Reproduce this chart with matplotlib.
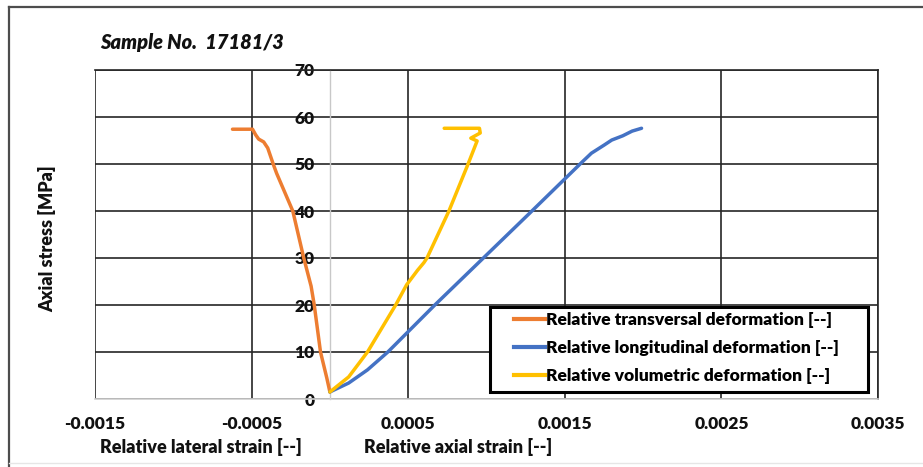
import matplotlib
matplotlib.use("Agg")
import matplotlib.pyplot as plt
from matplotlib.lines import Line2D
from matplotlib.patches import Rectangle

plt.rcParams['font.family'] = ['Lato', 'DejaVu Sans']
WEIGHT = "heavy"

# Stress-strain readings, sample 17181/3
transversal_strain = [0.0, -0.00002, -0.00006, -0.0001, -0.00012, -0.000167, -0.000237,
                      -0.00034, -0.00036, -0.000397, -0.000423, -0.000455, -0.000474,
                      -0.000494, -0.000622]
transversal_stress = [1.5, 4.5, 10.0, 20.0, 24.0, 30.0, 40.0,
                      48.0, 49.8, 53.4, 54.7, 55.3, 56.2,
                      57.4, 57.4]

longitudinal_strain = [0.0, 0.00012, 0.00024, 0.00037, 0.00067, 0.00098, 0.00129,
                       0.00161, 0.00167, 0.00175, 0.0018, 0.00187, 0.00193, 0.00199]
longitudinal_stress = [1.5, 3.4, 6.2, 10.0, 20.0, 30.0, 40.0,
                       50.4, 52.3, 54.0, 55.1, 56.0, 57.0, 57.6]

volumetric_strain = [0.0, 0.00012, 0.00024, 0.00042, 0.00049, 0.00056, 0.0006,
                     0.00062, 0.00076, 0.00088, 0.00094, 0.0009, 0.00096, 0.000955,
                     0.00073]
volumetric_stress = [1.5, 4.7, 10.0, 20.0, 24.3, 27.4, 29.0,
                     30.0, 40.0, 49.8, 54.9, 55.5, 56.6, 57.6,
                     57.6]

x_ticks = [-0.0015, -0.0005, 0.0005, 0.0015, 0.0025, 0.0035]
x_tick_labels = ["-0.0015", "-0.0005", "0.0005", "0.0015", "0.0025", "0.0035"]
y_ticks = [0, 10, 20, 30, 40, 50, 60, 70]

series_names = ["Relative transversal deformation [--]",
                "Relative longitudinal deformation [--]",
                "Relative volumetric deformation [--]"]
series_colors = ["#ED7D31", "#4472C4", "#FFC000"]

W, H = 923, 467
fig = plt.figure(figsize=(W / 100, H / 100), dpi=100)
fig.patch.set_facecolor("white")


def px(x, y):
    """Pixel position (from top-left) to figure fraction."""
    return x / W, 1 - y / H


# plot area in pixel terms
left_px, right_px, top_px, bottom_px = 95, 878, 70, 399
ax = fig.add_axes([left_px / W, (H - bottom_px) / H,
                   (right_px - left_px) / W, (bottom_px - top_px) / H])

ax.set_xlim(-0.0015, 0.0035)
ax.set_ylim(0, 70)
ax.set_xticks(x_ticks)
ax.set_xticklabels(x_tick_labels)
ax.set_yticks(y_ticks)
ax.set_yticklabels([str(v) for v in y_ticks])

ax.grid(True, color="#262626", linewidth=1.2, zorder=0)
ax.set_axisbelow(True)

for side in ("top", "right"):
    ax.spines[side].set_color("#262626")
    ax.spines[side].set_linewidth(1.2)
ax.spines["bottom"].set_color("#d0d0d0")
ax.spines["bottom"].set_linewidth(1.2)
ax.spines["left"].set_position(("data", 0))
ax.spines["left"].set_color("#c8c8c8")
ax.spines["left"].set_linewidth(1.0)

ax.tick_params(axis="both", length=0, labelsize=12.5, colors="#111111")
ax.tick_params(axis="x", pad=12)
ax.tick_params(axis="y", pad=11)
for lab in ax.get_xticklabels() + ax.get_yticklabels():
    lab.set_fontweight(WEIGHT)

ax.plot(transversal_strain, transversal_stress, color=series_colors[0],
        linewidth=2.5, solid_joinstyle="round", solid_capstyle="round", zorder=3)
ax.plot(longitudinal_strain, longitudinal_stress, color=series_colors[1],
        linewidth=2.5, solid_joinstyle="round", solid_capstyle="round", zorder=3)
ax.plot(volumetric_strain, volumetric_stress, color=series_colors[2],
        linewidth=2.5, solid_joinstyle="round", solid_capstyle="round", zorder=3)

# legend box drawn separately so the entries can sit inset from its edge
x0, y0 = px(490, 392)
x1, y1 = px(868, 307)
fig.add_artist(Rectangle((x0, y0), x1 - x0, y1 - y0, transform=fig.transFigure,
                         facecolor="white", edgecolor="black", linewidth=2.2,
                         zorder=4))

handles = [Line2D([], [], color=c, linewidth=3) for c in series_colors]
leg = fig.legend(handles, series_names, loc="upper left",
                 bbox_to_anchor=px(514, 312), frameon=False,
                 handlelength=1.75, handletextpad=0.1, borderpad=0,
                 labelspacing=0.68, prop={"weight": WEIGHT, "size": 12.6},
                 borderaxespad=0)
leg.set_zorder(5)

fig.text(*px(100, 43), "Sample No.  17181/3", fontsize=14.4, fontweight=WEIGHT,
         fontstyle="italic", ha="left", va="center", color="#111111")
fig.text(*px(47, 239), "Axial stress [MPa]", fontsize=13, fontweight=WEIGHT,
         rotation=90, ha="center", va="center", color="#111111")
fig.text(*px(201, 447), "Relative lateral strain [--]", fontsize=13,
         fontweight=WEIGHT, ha="center", va="center", color="#111111")
fig.text(*px(458, 447), "Relative axial strain [--]", fontsize=13,
         fontweight=WEIGHT, ha="center", va="center", color="#111111")

# chart frame
fig.add_artist(Line2D([9 / W, 1.0], [1 - 7 / H, 1 - 7 / H], color="#4d4d4d",
                      linewidth=1.6, transform=fig.transFigure))
fig.add_artist(Line2D([9 / W, 9 / W], [0.0, 1 - 7 / H], color="#4d4d4d",
                      linewidth=1.6, transform=fig.transFigure))
fig.add_artist(Line2D([9 / W, 1.0], [1 - 463 / H, 1 - 463 / H], color="#e6e6e6",
                      linewidth=1.0, transform=fig.transFigure))

fig.savefig("out.png", dpi=100, facecolor="white")
